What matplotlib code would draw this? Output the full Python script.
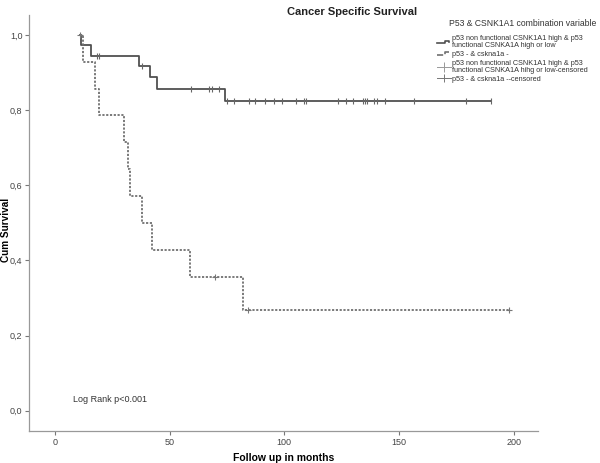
import numpy as np
import matplotlib
matplotlib.use("Agg")
import matplotlib.pyplot as plt
from matplotlib.lines import Line2D
from matplotlib.legend_handler import HandlerBase

plt.rcParams['font.family'] = ['Liberation Sans', 'DejaVu Sans']

# ---- data ----
g1_times = [10.8, 11.4, 15.8, 36.9, 41.6, 44.5, 74.0, 190.1]
g1_surv = [1.0, 0.972, 0.944, 0.917, 0.889, 0.857, 0.825, 0.825]
g1_censor = [18.4, 19.4, 38.2, 59.4, 67.0, 68.7, 71.6, 75.0, 77.9, 84.4, 87.3,
             91.7, 95.6, 99.0, 105.2, 108.7, 109.4, 123.6, 127.0, 129.9, 134.2,
             135.2, 136.0, 139.2, 140.3, 143.9, 156.6, 179.1, 190.1]

g2_times = [10.8, 12.1, 17.6, 19.1, 30.0, 31.9, 32.9, 37.9, 42.3, 59.0, 82.0, 198.1]
g2_surv = [1.0, 0.929, 0.857, 0.786, 0.714, 0.643, 0.571, 0.5, 0.429, 0.357, 0.268, 0.268]
g2_censor = [10.8, 69.9, 84.0, 198.1]

labels = ["p53 non functional CSNK1A1 high & p53\nfunctional CSNKA1A high or low",
          "p53 - & cskna1a -",
          "p53 non functional CSNK1A1 high & p53\nfunctional CSNKA1A hihg or low-censored",
          "p53 - & cskna1a --censored"]
legend_title = "P53 & CSNK1A1 combination variable"
xticks = [0, 50, 100, 150, 200]
yticks = [0.0, 0.2, 0.4, 0.6, 0.8, 1.0]


def surv_at(times, surv, t):
    idx = np.searchsorted(np.array(times), t, side='right') - 1
    return np.array(surv)[np.clip(idx, 0, len(surv) - 1)]


fig = plt.figure(figsize=(6.0, 4.63), dpi=100)
ax = fig.add_axes([0.0489, 0.0698, 0.848, 0.8978])

c1 = '#505050'
c2 = '#707070'
l1, = ax.plot(g1_times, g1_surv, drawstyle='steps-post', color=c1, lw=1.3)
l2, = ax.plot(g2_times, g2_surv, drawstyle='steps-post', color=c2, lw=1.3,
              linestyle=(0, (1.2, 0.9)))
ax.plot(g1_censor, surv_at(g1_times, g1_surv, g1_censor), linestyle='none',
        marker='|', markersize=5, color='#666666', mew=0.8)
ax.plot(g2_censor, surv_at(g2_times, g2_surv, g2_censor), linestyle='none',
        marker='+', markersize=5, color='#777777', mew=0.8)

ax.set_xlim(-11.1, 210.6)
ax.set_ylim(-0.053, 1.053)
ax.set_xticks(xticks)
ax.set_xticklabels([str(v) for v in xticks])
ax.set_yticks(yticks)
ax.set_yticklabels([f"{v:.1f}".replace('.', ',') for v in yticks])
for s in ['top', 'right']:
    ax.spines[s].set_visible(False)
for s in ['left', 'bottom']:
    ax.spines[s].set_color('#999999')
    ax.spines[s].set_linewidth(0.9)
ax.tick_params(axis='both', length=3, width=0.8, color='#777777',
               labelsize=6.5, labelcolor='#444444', pad=2)

ax.set_ylabel("Cum Survival", fontsize=7.2, fontweight='bold', va='center')
ax.yaxis.set_label_coords(-0.045, 0.483)
ax.set_xlabel("Follow up in months", fontsize=7.5, fontweight='bold', va='center')
ax.xaxis.set_label_coords(0.5, -0.066)
fig.text(0.587, 0.984, "Cancer Specific Survival", ha='center', va='top',
         fontsize=8, fontweight='bold', color='#222222')
ax.text(8, 0.03, "Log Rank p<0.001", fontsize=6.5, color='#333333', va='center')
fig.text(449 / 600, 1 - 24 / 463, legend_title, ha='left', va='center',
         fontsize=6.25, color='#333333')


class StepHandler(HandlerBase):
    def create_artists(self, legend, orig_handle, xdescent, ydescent, width,
                       height, fontsize, trans):
        xs = np.array([0.0, 0.55, 0.55, 0.85, 0.85]) * width - xdescent
        ys = np.array([0.2, 0.2, 0.7, 0.7, 0.45]) * height - ydescent
        ln = Line2D(xs, ys, color=orig_handle.get_color(),
                    linestyle=orig_handle.get_linestyle(), lw=1.2)
        ln.set_transform(trans)
        return [ln]


cens1 = Line2D([], [], color='#999999', lw=0.7, marker='|', markersize=7, mew=0.7)
cens2 = Line2D([], [], color='#777777', lw=0.7, marker='+', markersize=6, mew=0.7)
leg = ax.legend([l1, l2, cens1, cens2], labels,
                handler_map={l1: StepHandler(), l2: StepHandler()},
                loc='upper left', bbox_to_anchor=(0.729, 1 - 35 / 463),
                bbox_transform=fig.transFigure, frameon=False, fontsize=5.2,
                handlelength=1.9, handletextpad=0.1, borderpad=0,
                labelspacing=0.27, borderaxespad=0, numpoints=1)
for t in leg.get_texts():
    t.set_color('#333333')
    t.set_linespacing(1.0)

fig.savefig("out.png", dpi=100)
